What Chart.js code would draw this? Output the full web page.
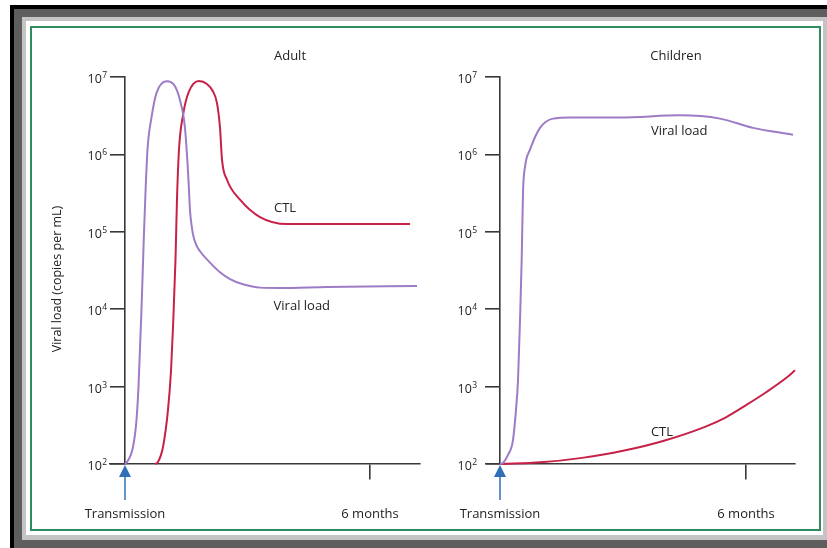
<!DOCTYPE html>
<html>
<head>
<meta charset="utf-8">
<script src="https://cdn.jsdelivr.net/npm/chart.js@4.4.1/dist/chart.umd.min.js"></script>
<style>
  html, body { margin: 0; padding: 0; background: #fff; width: 827px; height: 548px; overflow: hidden; }
  .f { position: absolute; box-sizing: border-box; }
  #black { left: 10px; top: 5px; width: 830px; height: 560px; background: #000; }
  #dark { left: 14px; top: 9px; width: 830px; height: 560px; background: #5e5e5e; }
  #light { left: 22px; top: 17px; width: 805px; height: 523px; background: #c4c4c4; }
  #white { left: 26px; top: 21px; width: 797px; height: 514px; background: #fff; }
  #green { left: 30px; top: 26px; width: 791px; height: 505px; border: 2px solid #2f8c5f; }
  canvas { position: absolute; left: 0; top: 0; }
</style>
</head>
<body>
<div class="f" id="black"></div>
<div class="f" id="dark"></div>
<div class="f" id="light"></div>
<div class="f" id="white"></div>
<div class="f" id="green"></div>
<canvas id="c1" width="827" height="548"></canvas>
<canvas id="c2" width="827" height="548"></canvas>
<script>
// ---- DATA (time in months after transmission, values in copies per mL) ----
const yTickValues = [1e2, 1e3, 1e4, 1e5, 1e6, 1e7];
const yTickExponents = ['2', '3', '4', '5', '6', '7'];
const xTickValues = [6];
const xTickLabels = ['6 months'];

// Adult panel
const adultViralMonths = [0, 0.05, 0.196, 0.282, 0.331, 0.404, 0.465, 0.502, 0.551, 0.649, 0.771, 1.016, 1.224, 1.347, 1.469, 1.551, 1.592, 1.629, 1.673, 1.739, 1.837, 2.082, 2.327, 2.572, 2.890, 3.306, 3.796, 4.947, 7.151];
const adultViralLoad   = [100, 106, 166, 372, 1000, 1.0e4, 9.6e4, 3.2e5, 1.15e6, 3.0e6, 6.2e6, 8.8e6, 7.6e6, 5.0e6, 2.2e6, 5.1e5, 1.9e5, 1.23e5, 8.9e4, 6.9e4, 5.6e4, 4.0e4, 3.0e4, 2.45e4, 2.1e4, 1.9e4, 1.88e4, 1.94e4, 2.0e4];
const adultCtlMonths = [0.735, 0.808, 0.931, 1.053, 1.127, 1.176, 1.237, 1.273, 1.322, 1.420, 1.567, 1.812, 2.008, 2.155, 2.253, 2.327, 2.376, 2.498, 2.816, 3.306, 3.967, 6.980];
const adultCtl       = [100, 106, 166, 500, 1600, 5900, 4.4e4, 2.6e5, 1.15e6, 3.2e6, 6.5e6, 8.9e6, 8.1e6, 6.5e6, 4.6e6, 2.2e6, 8.5e5, 4.7e5, 2.6e5, 1.55e5, 1.26e5, 1.26e5];

// Children panel
const childViralMonths = [0, 0.073, 0.195, 0.317, 0.390, 0.439, 0.488, 0.529, 0.561, 0.610, 0.732, 0.976, 1.293, 1.707, 2.927, 4.390, 5.366, 6.171, 7.146];
const childViralLoad   = [100, 103, 131, 204, 500, 1200, 7200, 4.4e4, 3.2e5, 6.9e5, 1.15e6, 2.2e6, 2.9e6, 3.0e6, 3.0e6, 3.2e6, 2.9e6, 2.2e6, 1.8e6];
const childCtlMonths = [0, 1, 2, 3, 4, 5, 5.5, 6, 6.5, 7, 7.195];
const childCtl       = [100, 105, 120, 148, 200, 302, 398, 575, 851, 1318, 1622];

// ---- STYLE ----
const PURPLE = '#9d7bc6';
const RED = '#c72148';
const AXIS = '#383838';
const TEXT = '#222222';
const BLUE = '#2f6fb8';
const FONT = '"Open Sans", "DejaVu Sans", sans-serif';

function pts(xs, ys) { return xs.map((x, i) => ({ x: x, y: ys[i] })); }

function ds(label, xs, ys, color) {
  return {
    label: label, data: pts(xs, ys), borderColor: color, backgroundColor: color,
    borderWidth: 2, pointRadius: 0, cubicInterpolationMode: 'monotone', clip: false, fill: false
  };
}

function makePlugin(cfg) {
  return {
    id: 'annot' + cfg.id,
    afterDraw(chart) {
      const ctx = chart.ctx;
      const xs = chart.scales.x, ys = chart.scales.y;
      const x0 = xs.getPixelForValue(0);
      const yb = ys.getPixelForValue(100);
      ctx.save();
      ctx.fillStyle = TEXT;
      // y tick labels 10^n
      yTickValues.forEach((v, i) => {
        const py = ys.getPixelForValue(v);
        const right = x0 - 14 - cfg.labelGap;
        ctx.font = '8.5px ' + FONT;
        ctx.textAlign = 'right';
        ctx.textBaseline = 'alphabetic';
        const ew = ctx.measureText(yTickExponents[i]).width;
        ctx.fillText(yTickExponents[i], right, py + 1);
        ctx.font = '12.5px ' + FONT;
        ctx.fillText('10', right - ew - 0.3, py + 6);
      });
      // x tick labels
      ctx.font = '13px ' + FONT;
      ctx.textAlign = 'center';
      ctx.textBaseline = 'middle';
      xTickValues.forEach((v, i) => {
        ctx.fillText(xTickLabels[i], xs.getPixelForValue(v), 514);
      });
      ctx.fillText('Transmission', x0, 514);
      // panel title
      ctx.fillText(cfg.title, cfg.titleX, 56);
      // curve labels
      cfg.labels.forEach(l => {
        ctx.fillText(l.text, xs.getPixelForValue(l.m), ys.getPixelForValue(l.v));
      });
      // y axis title
      if (cfg.yTitle) {
        ctx.save();
        ctx.translate(57, 279);
        ctx.rotate(-Math.PI / 2);
        ctx.font = '12.5px ' + FONT;
        ctx.fillText(cfg.yTitle, 0, 0);
        ctx.restore();
      }
      // transmission arrow
      ctx.strokeStyle = BLUE;
      ctx.fillStyle = BLUE;
      ctx.lineWidth = 1.5;
      ctx.beginPath();
      ctx.moveTo(x0, yb + 10);
      ctx.lineTo(x0, yb + 36);
      ctx.stroke();
      ctx.beginPath();
      ctx.moveTo(x0, yb + 1);
      ctx.lineTo(x0 - 6, yb + 13);
      ctx.lineTo(x0 + 6, yb + 13);
      ctx.closePath();
      ctx.fill();
      ctx.restore();
    }
  };
}

function makeChart(id, cfg, datasets) {
  return new Chart(document.getElementById(id), {
    type: 'line',
    data: { datasets: datasets },
    options: {
      responsive: false, animation: false, devicePixelRatio: 1,
      layout: { padding: cfg.padding },
      plugins: { legend: { display: false }, tooltip: { enabled: false } },
      scales: {
        x: {
          type: 'linear', min: cfg.xmin, max: cfg.xmax, position: { y: 100 },
          grid: { display: true, drawOnChartArea: false, drawTicks: true, tickLength: 15, color: AXIS, lineWidth: 1.6 },
          border: { display: true, color: AXIS, width: 1.6 },
          ticks: { display: false },
          afterBuildTicks: s => { s.ticks = xTickValues.map(v => ({ value: v })); }
        },
        y: {
          type: 'logarithmic', min: 100, max: 1e7, position: { x: 0 },
          grid: { display: true, drawOnChartArea: false, drawTicks: true, tickLength: 14, color: AXIS, lineWidth: 1.6 },
          border: { display: true, color: AXIS, width: 1.6 },
          ticks: { display: false },
          afterBuildTicks: s => { s.ticks = yTickValues.map(v => ({ value: v })); }
        }
      }
    },
    plugins: [makePlugin(cfg)]
  });
}

makeChart('c1', {
  id: 1, padding: { left: 110, right: 407, top: 77, bottom: 84 },
  xmin: -0.367, xmax: 7.224, labelGap: 4, title: 'Adult', titleX: 290,
  yTitle: 'Viral load (copies per mL)',
  labels: [{ text: 'CTL', m: 3.92, v: 2.0e5 }, { text: 'Viral load', m: 4.33, v: 1.08e4 }]
}, [ds('Viral load', adultViralMonths, adultViralLoad, PURPLE), ds('CTL', adultCtlMonths, adultCtl, RED)]);

makeChart('c2', {
  id: 2, padding: { left: 487, right: 32, top: 77, bottom: 84 },
  xmin: -0.317, xmax: 7.195, labelGap: 9, title: 'Children', titleX: 676,
  yTitle: null,
  labels: [{ text: 'Viral load', m: 4.37, v: 2.0e6 }, { text: 'CTL', m: 3.95, v: 255 }]
}, [ds('Viral load', childViralMonths, childViralLoad, PURPLE), ds('CTL', childCtlMonths, childCtl, RED)]);
</script>
</body>
</html>
